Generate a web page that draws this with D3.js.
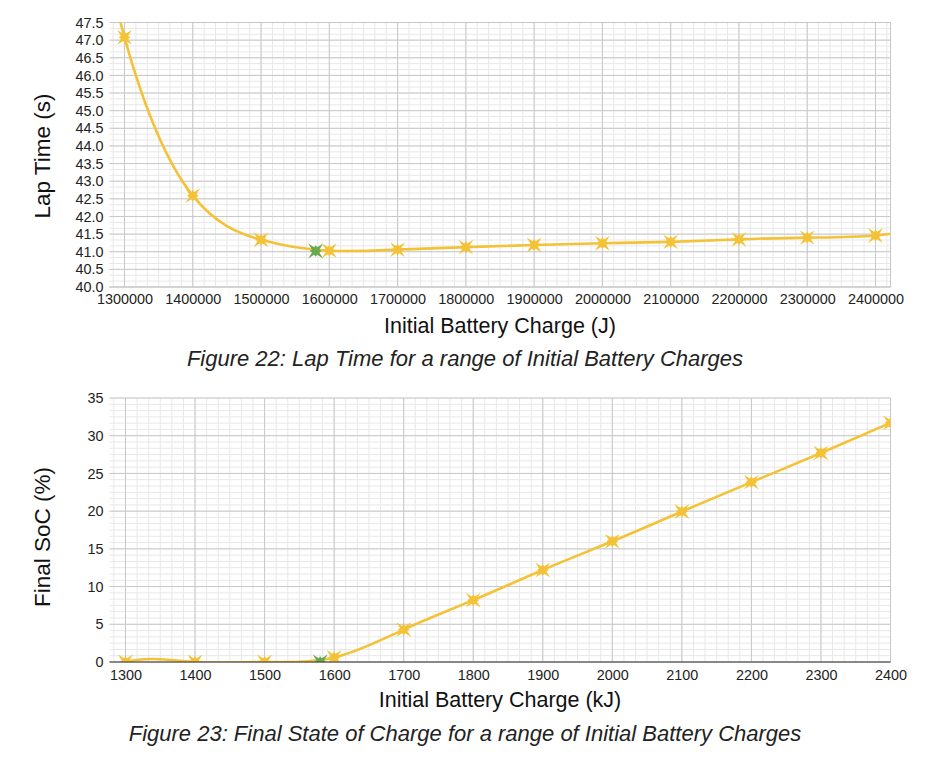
<!DOCTYPE html>
<html>
<head>
<meta charset="utf-8">
<script src="https://cdn.jsdelivr.net/npm/d3@7"></script>
<style>
  html, body { margin: 0; padding: 0; background: #fff; }
  svg { display: block; font-family: "Liberation Sans", Arial, sans-serif; }
</style>
</head>
<body>
<svg id="chart" width="928" height="757"></svg>
<script>
// ---------- Data: Figure 22 (Lap Time) ----------
// first and last points lie outside the visible axis range (curve continues off-plot)
const lapCharge = [1200000, 1300000, 1400000, 1500000, 1600000, 1700000, 1800000, 1900000, 2000000, 2100000, 2200000, 2300000, 2400000, 2500000];
const lapTime   = [56.0,    47.08,   42.59,   41.34,   41.03,   41.06,   41.13,   41.19,   41.24,   41.28,   41.35,   41.40,   41.46,   41.75];
const lapOptCharge = [1580000];
const lapOptTime   = [41.02];
const lapXTicks = [1300000, 1400000, 1500000, 1600000, 1700000, 1800000, 1900000, 2000000, 2100000, 2200000, 2300000, 2400000];
const lapYTicks = [40.0, 40.5, 41.0, 41.5, 42.0, 42.5, 43.0, 43.5, 44.0, 44.5, 45.0, 45.5, 46.0, 46.5, 47.0, 47.5];

// ---------- Data: Figure 23 (Final SoC) ----------
// first point lies outside the visible range (below 0, left of axis start)
const socCharge = [1200, 1300, 1400, 1500, 1600, 1700, 1800, 1900, 2000, 2100, 2200, 2300, 2400];
const socValue  = [-5,   0,    0,    0,    0.6,  4.3,  8.2,  12.2, 16.0, 19.95, 23.85, 27.7, 31.7];
const socOptCharge = [1580];
const socOptValue  = [0];
const socXTicks = [1300, 1400, 1500, 1600, 1700, 1800, 1900, 2000, 2100, 2200, 2300, 2400];
const socYTicks = [0, 5, 10, 15, 20, 25, 30, 35];

const YELLOW = "#f4c236";
const GREEN = "#6aa84f";
const MAJOR = "#c8c8c8";
const MINOR = "#e8e8e8";

const svg = d3.select("#chart");

function starPath(R) {
  const pts = [];
  for (let i = 0; i < 16; i++) {
    const a = i * Math.PI / 8 - Math.PI / 2;
    let r;
    if (i % 2 === 1) r = R * 0.38;
    else if ((i / 2) % 2 === 1) r = R;       // diagonals
    else r = R * 0.55;                         // axial
    pts.push([Math.cos(a) * r, Math.sin(a) * r]);
  }
  return "M" + pts.map(p => p[0].toFixed(2) + "," + p[1].toFixed(2)).join("L") + "Z";
}

function drawChart(cfg) {
  const g = svg.append("g");
  const x = d3.scaleLinear().domain(cfg.xDomain).range([cfg.left, cfg.right]);
  const y = d3.scaleLinear().domain(cfg.yDomain).range([cfg.bottom, cfg.top]);

  // minor grid
  const xMinor = [];
  for (let v = cfg.xTicks[0] - cfg.xMinorStep * 6; v <= cfg.xDomain[1] + 1e-9; v += cfg.xMinorStep) {
    if (v >= cfg.xDomain[0] - 1e-9) xMinor.push(v);
  }
  const yMinor = [];
  for (let v = cfg.yDomain[0]; v <= cfg.yDomain[1] + 1e-9; v += cfg.yMinorStep) yMinor.push(v);

  g.append("g").selectAll("line").data(xMinor).join("line")
    .attr("x1", d => x(d)).attr("x2", d => x(d))
    .attr("y1", cfg.top).attr("y2", cfg.bottom)
    .attr("stroke", MINOR).attr("stroke-width", 1);
  g.append("g").selectAll("line").data(yMinor).join("line")
    .attr("x1", cfg.left).attr("x2", cfg.right)
    .attr("y1", d => y(d)).attr("y2", d => y(d))
    .attr("stroke", MINOR).attr("stroke-width", 1);

  // major grid
  g.append("g").selectAll("line").data(cfg.xTicks).join("line")
    .attr("x1", d => x(d)).attr("x2", d => x(d))
    .attr("y1", cfg.top).attr("y2", cfg.bottom)
    .attr("stroke", MAJOR).attr("stroke-width", 1);
  g.append("g").selectAll("line").data(cfg.yTicks).join("line")
    .attr("x1", cfg.left).attr("x2", cfg.right)
    .attr("y1", d => y(d)).attr("y2", d => y(d))
    .attr("stroke", MAJOR).attr("stroke-width", 1);

  // right border
  g.append("line").attr("x1", cfg.right).attr("x2", cfg.right)
    .attr("y1", cfg.top).attr("y2", cfg.bottom)
    .attr("stroke", MAJOR).attr("stroke-width", 1);

  // tick labels using d3 axes
  const xAxis = d3.axisBottom(x).tickValues(cfg.xTicks).tickSize(0).tickPadding(cfg.xPad)
    .tickFormat(cfg.xFmt);
  const ax = g.append("g").attr("transform", `translate(0,${cfg.bottom})`).call(xAxis);
  ax.select(".domain").remove();
  ax.selectAll("text").attr("font-size", 14.4).attr("fill", "#222")
    .attr("font-family", "Liberation Sans, Arial, sans-serif");

  const yAxis = d3.axisLeft(y).tickValues(cfg.yTicks).tickSize(0).tickPadding(cfg.yPad)
    .tickFormat(cfg.yFmt);
  const ay = g.append("g").attr("transform", `translate(${cfg.left},0)`).call(yAxis);
  ay.select(".domain").remove();
  ay.selectAll("text").attr("font-size", 14.4).attr("fill", "#222")
    .attr("font-family", "Liberation Sans, Arial, sans-serif");

  // clip
  const clipId = "clip" + cfg.id;
  svg.append("defs").append("clipPath").attr("id", clipId)
    .append("rect").attr("x", cfg.left).attr("y", cfg.top)
    .attr("width", cfg.right - cfg.left).attr("height", cfg.bottom - cfg.top);

  const plot = g.append("g").attr("clip-path", `url(#${clipId})`);
  const pts = cfg.xs.map((v, i) => [v, cfg.ys[i]]);
  const line = d3.line().x(d => x(d[0])).y(d => y(d[1])).curve(d3.curveNatural);
  plot.append("path").attr("d", line(pts))
    .attr("fill", "none").attr("stroke", YELLOW).attr("stroke-width", 2.6);

  const sp = starPath(10.5);
  plot.append("g").selectAll("path").data(pts).join("path")
    .attr("d", sp).attr("transform", d => `translate(${x(d[0])},${y(d[1])})`)
    .attr("fill", YELLOW);
  const opt = cfg.optX.map((v, i) => [v, cfg.optY[i]]);
  plot.append("g").selectAll("path").data(opt).join("path")
    .attr("d", sp).attr("transform", d => `translate(${x(d[0])},${y(d[1])})`)
    .attr("fill", GREEN);

  // bottom axis line (drawn over the plot)
  g.append("line").attr("x1", cfg.left).attr("x2", cfg.right)
    .attr("y1", cfg.bottom).attr("y2", cfg.bottom)
    .attr("stroke", cfg.axisColor).attr("stroke-width", cfg.axisWidth);

  // axis titles
  g.append("text").attr("x", (cfg.left + cfg.right) / 2).attr("y", cfg.xTitleY)
    .attr("text-anchor", "middle").attr("font-size", 21.5).attr("fill", "#111")
    .text(cfg.xTitle);
  g.append("text")
    .attr("transform", `translate(${cfg.yTitleX},${cfg.yTitleCY}) rotate(-90)`)
    .attr("text-anchor", "middle").attr("font-size", 22.5).attr("fill", "#111")
    .text(cfg.yTitle);
  g.append("text").attr("x", 465).attr("y", cfg.capY)
    .attr("text-anchor", "middle").attr("font-size", 22).attr("font-style", "italic")
    .attr("fill", "#222").text(cfg.caption);
}

drawChart({
  id: "a",
  left: 109.5, right: 890.5, top: 22.5, bottom: 287,
  xDomain: [1278000, 2422000], yDomain: [40, 47.5],
  xTicks: lapXTicks, yTicks: lapYTicks,
  xMinorStep: 100000 / 6, yMinorStep: 0.5 / 3,
  xFmt: d3.format("d"), yFmt: d3.format(".1f"),
  xPad: 7, yPad: 6,
  axisColor: MAJOR, axisWidth: 1,
  xs: lapCharge, ys: lapTime, optX: lapOptCharge, optY: lapOptTime,
  xTitle: "Initial Battery Charge (J)", xTitleY: 333,
  yTitle: "Lap Time (s)", yTitleX: 50, yTitleCY: 156,
  caption: "Figure 22: Lap Time for a range of Initial Battery Charges", capY: 366
});

drawChart({
  id: "b",
  left: 109.5, right: 890.5, top: 398, bottom: 662,
  xDomain: [1277, 2400], yDomain: [0, 35],
  xTicks: socXTicks, yTicks: socYTicks,
  xMinorStep: 100 / 6, yMinorStep: 5 / 6,
  xFmt: d3.format("d"), yFmt: d3.format("d"),
  xPad: 8, yPad: 6,
  axisColor: "#333", axisWidth: 1.2,
  xs: socCharge, ys: socValue, optX: socOptCharge, optY: socOptValue,
  xTitle: "Initial Battery Charge (kJ)", xTitleY: 707,
  yTitle: "Final SoC (%)", yTitleX: 50, yTitleCY: 537,
  caption: "Figure 23: Final State of Charge for a range of Initial Battery Charges", capY: 741
});
</script>
</body>
</html>
